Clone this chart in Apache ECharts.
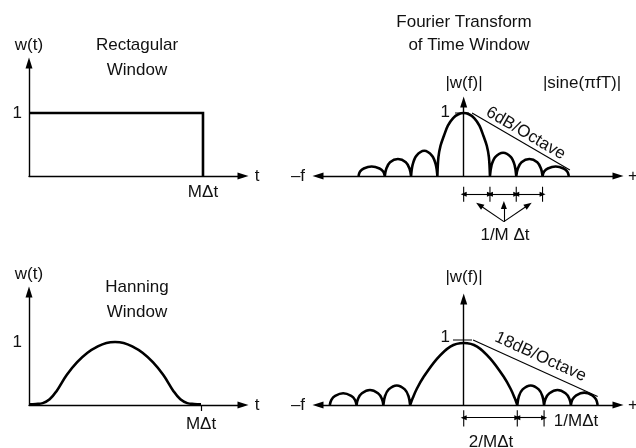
<!DOCTYPE html>
<html><head><meta charset="utf-8">
<script src="https://cdn.jsdelivr.net/npm/echarts@6/dist/echarts.min.js"></script>
<style>html,body{margin:0;padding:0;background:#fff}#c{width:636px;height:448px}</style>
</head><body><div id="c"></div>
<script>
const FONT = '"Liberation Sans", Arial, Helvetica, sans-serif';
const INK = '#000';
const TXT = '#111';

// ---------- data ----------
// time windows: x in units of MΔt, y = w(t)
const rectWindow = [[0,1],[1,1],[1,0]];
const hanningWindow = [[0,0.01],[0.04,0.015],[0.08,0.03],[0.12,0.09],[0.16,0.22],[0.22,0.48],[0.28,0.68],[0.34,0.83],[0.4,0.93],[0.45,0.985],[0.5,1.0],[0.55,0.985],[0.6,0.93],[0.66,0.83],[0.72,0.68],[0.78,0.48],[0.84,0.22],[0.88,0.09],[0.92,0.03],[0.96,0.015],[1,0.01]];

// Fourier transforms: x in units of 1/MΔt, y = |w(f)|
const rectFTMainLobe = [[-1,0],[-0.96,0.3],[-0.88,0.48],[-0.75,0.64],[-0.6,0.8],[-0.4,0.92],[-0.2,0.98],[0,1],[0.2,0.98],[0.4,0.92],[0.6,0.8],[0.75,0.64],[0.88,0.48],[0.96,0.3],[1,0]];
const rectFTSideLobes = [
  [[-4,0],[-3.94,0.07],[-3.8,0.12],[-3.5,0.15],[-3.2,0.12],[-3.06,0.07],[-3,0]],
  [[-3,0],[-2.94,0.12],[-2.8,0.22],[-2.5,0.27],[-2.2,0.22],[-2.06,0.12],[-2,0]],
  [[-2,0],[-1.94,0.18],[-1.8,0.32],[-1.5,0.40],[-1.2,0.32],[-1.06,0.18],[-1,0]],
  [[1,0],[1.06,0.17],[1.2,0.30],[1.5,0.37],[1.8,0.30],[1.94,0.17],[2,0]],
  [[2,0],[2.06,0.12],[2.2,0.22],[2.5,0.27],[2.8,0.22],[2.94,0.12],[3,0]],
  [[3,0],[3.06,0.07],[3.2,0.12],[3.5,0.15],[3.8,0.12],[3.94,0.07],[4,0]]
];
const rectFTSlope = [[0.32,1.0],[4.04,0.095]];
const rectFTUnitMark = [[-0.33,1],[0.2,1]];
const rectFTTicks = [0,1,2,3];
const rectFTTickSpan = [-0.17,-0.41];
const rectFTDimLevel = -0.29;
const rectFTPointerFrom = [1.53,-0.725];
const rectFTPointerTo = [[0.6,-0.46],[1.53,-0.46],[2.46,-0.46]];

const hannFTMainLobe = [[-2,0],[-1.9,0.11],[-1.75,0.25],[-1.5,0.43],[-1,0.71],[-0.5,0.9],[0,0.955],[0.5,0.9],[1,0.71],[1.5,0.43],[1.75,0.25],[1.9,0.11],[2,0]];
const hannFTSideLobes = [
  [[-5,0],[-4.94,0.08],[-4.8,0.14],[-4.5,0.18],[-4.2,0.14],[-4.06,0.08],[-4,0]],
  [[-4,0],[-3.94,0.10],[-3.8,0.18],[-3.5,0.23],[-3.2,0.18],[-3.06,0.10],[-3,0]],
  [[-3,0],[-2.94,0.135],[-2.8,0.24],[-2.5,0.30],[-2.2,0.24],[-2.06,0.135],[-2,0]],
  [[2,0],[2.06,0.135],[2.2,0.24],[2.5,0.30],[2.8,0.24],[2.94,0.135],[3,0]],
  [[3,0],[3.06,0.10],[3.2,0.18],[3.5,0.23],[3.8,0.18],[3.94,0.10],[4,0]],
  [[4,0],[4.06,0.085],[4.2,0.15],[4.5,0.19],[4.8,0.15],[4.94,0.085],[5,0]]
];
const hannFTSlope = [[0.35,1.0],[5.0,0.13]];
const hannFTUnitMark = [[-0.4,1],[0.31,1]];
const hannFTTicks = [0,2,3];
const hannFTTickSpan = [-0.08,-0.33];
const hannFTDimLevel = -0.195;

const yTickValues = [1];
const yTickLabels = ['1'];
const xTickValues = [1];
const xTickLabels = ['MΔt'];
const slopeLabels = ['6dB/Octave','18dB/Octave'];

// ---------- helpers ----------
function lobesToData(lobes) {
  const out = [];
  lobes.forEach((l, i) => { if (i) out.push([l[0][0], '-']); l.forEach(p => out.push(p)); });
  return out;
}
function ticksToData(ticks, span) {
  const out = [];
  ticks.forEach(x => { out.push([x, span[0]], [x, span[1]], [x, '-']); });
  return out;
}
function dimsFromTicks(ticks, lvl) {
  const out = [];
  for (let i = 0; i + 1 < ticks.length; i++) out.push([{coord:[ticks[i], lvl]}, {coord:[ticks[i+1], lvl]}]);
  return out;
}
const rectFTLobes = rectFTSideLobes.slice(0,3).concat([rectFTMainLobe], rectFTSideLobes.slice(3));
const hannFTLobes = hannFTSideLobes.slice(0,3).concat([hannFTMainLobe], hannFTSideLobes.slice(3));

const axisLineStyle = {color: INK, width: 1.4};
function visX(grid, min, max, symbols, extra) {
  return Object.assign({
    type:'value', gridIndex:grid, min, max,
    splitLine:{show:false}, axisTick:{show:false}, axisLabel:{show:false},
    axisLine:{show:true, onZero:false, symbol:symbols, symbolSize:[7,11], lineStyle:axisLineStyle}
  }, extra || {});
}
function visY(grid, min, max, margin, padding, showLabel) {
  return {
    type:'value', gridIndex:grid, min, max,
    splitLine:{show:false}, axisTick:{show:false},
    axisLine:{show:true, onZero:true, symbol:['none','triangle'], symbolSize:[7,11], lineStyle:axisLineStyle},
    axisLabel:{show:showLabel, customValues:yTickValues, formatter:(v)=>yTickLabels[yTickValues.indexOf(v)] || '', margin, padding,
      fontSize:17, fontFamily:FONT, color:TXT}
  };
}
function hid(grid, min, max) { return {type:'value', gridIndex:grid, min, max, show:false}; }
const xLabel = (margin) => ({show:true, customValues:xTickValues, formatter:(v)=>xTickLabels[xTickValues.indexOf(v)] || '', margin, fontSize:17, fontFamily:FONT, color:TXT});

const curveStyle = {color: INK, width: 2.6, join:'miter'};
const thin = {color: INK, width: 1.1, type:'solid'};
function curve(xi, data, smooth) {
  return {type:'line', xAxisIndex:xi, yAxisIndex:xi, data, smooth, symbol:'none', showSymbol:false, connectNulls:false,
    lineStyle:curveStyle, silent:true, animation:false, z:3};
}
function plain(xi, data) {
  return {type:'line', xAxisIndex:xi, yAxisIndex:xi, data, symbol:'none', showSymbol:false, connectNulls:false,
    lineStyle:thin, silent:true, animation:false};
}
function marks(xi, data, symbol, size, label) {
  return {type:'line', xAxisIndex:xi, yAxisIndex:xi, data:[], symbol:'none', silent:true, animation:false,
    markLine:{silent:true, animation:false, symbol, symbolSize:size, lineStyle:thin,
      label: label || {show:false}, emphasis:{disabled:true}, data}};
}
function slopeLabel(text, dist) {
  return {show:true, position:'insideMiddleTop', formatter:text, fontSize:17, fontFamily:FONT, color:TXT, distance:dist};
}

const texts = [
  ['Rectagular',137,45],['Window',137,70],['w(t)',29,45],['t',257,176],
  ['Fourier Transform',464,22],['of Time Window',469,45],['|w(f)|',464,83],['|sine(πfT)|',582,83],
  ['–f',298,176],['1/M Δt',505,235],
  ['Hanning',137,287],['Window',137,312],['w(t)',29,274],['t',257,405],
  ['|w(f)|',464,277],['–f',298,405],['1/MΔt',576,421],['2/MΔt',491,442]
];
const rightAligned = [[yTickLabels[0],450,112],[yTickLabels[0],450,337]];
const leftTexts = [['+f',628,176],['+f',628,405]];
const mkText = (align) => ([t,x,y]) => ({type:'text', x, y, silent:true,
  style:{text:t, font:'17px '+FONT, fill:TXT, align, verticalAlign:'middle', textAlign:align, textVerticalAlign:'middle'}});
const graphic = texts.map(mkText('center')).concat(leftTexts.map(mkText('left')), rightAligned.map(mkText('right')));

const option = {
  animation:false,
  backgroundColor:'#fff',
  grid:[
    {left:29, top:63, width:214, height:113},
    {left:29, top:292, width:214, height:113},
    {left:318, top:102, width:300, height:74},
    {left:318, top:176, width:300, height:64},
    {left:318, top:299, width:300, height:106},
    {left:318, top:405, width:300, height:43}
  ],
  xAxis:[
    visX(0, 0, 1.23, ['none','triangle'], {axisLabel:xLabel(8)}),
    visX(1, 0, 1.244, ['none','triangle'], {axisLabel:xLabel(11), axisTick:{show:true, customValues:xTickValues, length:6, inside:false, lineStyle:{color:INK,width:1.2}}}),
    visX(2, -5.54, 5.87, ['triangle','triangle']),
    hid(3, -5.54, 5.87),
    visX(4, -5.44, 5.76, ['triangle','triangle']),
    hid(5, -5.44, 5.76)
  ],
  yAxis:[
    visY(0, 0, 1.794, 7, [0,0,6,0], true),
    visY(1, 0, 1.794, 7, [0,0,2,0], true),
    visY(2, 0, 1.175, 14, [0,0,0,0], false),
    hid(3, -1.016, 0),
    visY(4, 0, 1.631, 14, [0,0,6,0], false),
    hid(5, -0.6615, 0)
  ],
  graphic,
  series:[
    curve(0, rectWindow, false),
    curve(1, hanningWindow, 0.4),
    curve(2, lobesToData(rectFTLobes), 0.35),
    plain(2, rectFTUnitMark),
    marks(2, [[{coord:rectFTSlope[0]},{coord:rectFTSlope[1]}]], ['none','none'], 1, slopeLabel(slopeLabels[0], 1)),
    plain(3, ticksToData(rectFTTicks, rectFTTickSpan)),
    marks(3, dimsFromTicks(rectFTTicks, rectFTDimLevel), ['triangle','triangle'], [5,6]),
    marks(3, rectFTPointerTo.map(p => [{coord:rectFTPointerFrom},{coord:p}]), ['none','triangle'], [6,8]),
    curve(4, lobesToData(hannFTLobes), 0.35),
    plain(4, hannFTUnitMark),
    marks(4, [[{coord:hannFTSlope[0]},{coord:hannFTSlope[1]}]], ['none','none'], 1, slopeLabel(slopeLabels[1], 4)),
    plain(5, ticksToData(hannFTTicks, hannFTTickSpan)),
    marks(5, dimsFromTicks(hannFTTicks, hannFTDimLevel), ['triangle','triangle'], [5,6])
  ]
};
const chart = echarts.init(document.getElementById('c'), null, {renderer:'canvas'});
chart.setOption(option);
</script></body></html>
